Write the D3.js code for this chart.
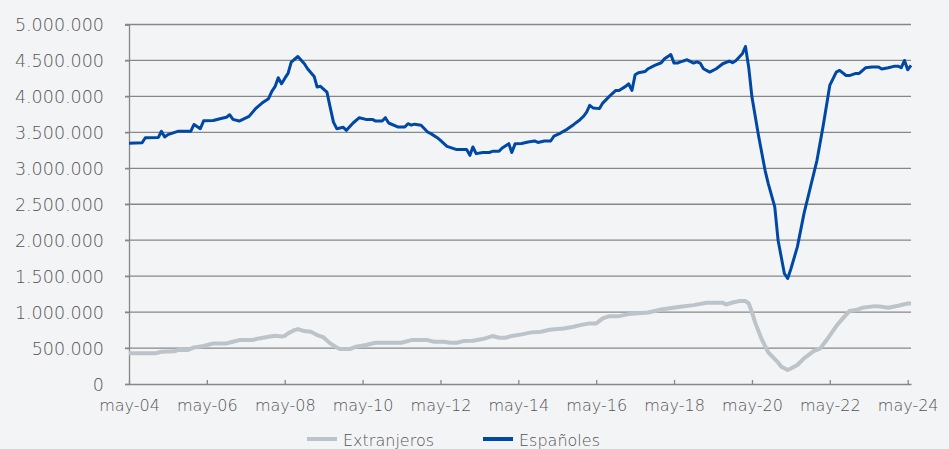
<!DOCTYPE html>
<html>
<head>
<meta charset="utf-8">
<script src="https://cdn.jsdelivr.net/npm/d3@7"></script>
<style>
html,body{margin:0;padding:0;background:#f3f4f6;}
svg{display:block;font-family:"DejaVu Sans",sans-serif;font-weight:300;}
</style>
</head>
<body>
<svg id="chart" width="949" height="449"></svg>
<script>
/* datos, en miles de personas */
var mesesEsp=["2004-05","2004-09","2004-10","2005-02","2005-03","2005-04","2005-05","2005-08","2005-12","2006-01","2006-03","2006-04","2006-07","2006-09","2006-11","2006-12","2007-01","2007-03","2007-06","2007-08","2007-10","2007-12","2008-01","2008-02","2008-03","2008-04","2008-05","2008-06","2008-07","2008-09","2008-11","2008-12","2009-02","2009-03","2009-04","2009-06","2009-07","2009-08","2009-09","2009-11","2009-12","2010-02","2010-04","2010-06","2010-08","2010-09","2010-11","2010-12","2011-01","2011-04","2011-06","2011-07","2011-08","2011-09","2011-11","2012-01","2012-02","2012-04","2012-05","2012-07","2012-10","2013-01","2013-02","2013-03","2013-04","2013-06","2013-08","2013-09","2013-11","2013-12","2014-02","2014-03","2014-04","2014-06","2014-08","2014-10","2014-11","2015-01","2015-03","2015-04","2015-06","2015-08","2015-10","2015-12","2016-01","2016-02","2016-03","2016-04","2016-06","2016-07","2016-09","2016-11","2016-12","2017-02","2017-03","2017-04","2017-05","2017-06","2017-08","2017-09","2017-11","2018-01","2018-02","2018-04","2018-05","2018-06","2018-07","2018-09","2018-11","2018-12","2019-01","2019-02","2019-04","2019-06","2019-08","2019-10","2019-11","2019-12","2020-02","2020-03","2020-04","2020-05","2020-07","2020-09","2020-10","2020-12","2021-01","2021-03","2021-04","2021-05","2021-07","2021-09","2021-11","2022-01","2022-03","2022-05","2022-07","2022-08","2022-10","2022-11","2023-01","2023-02","2023-04","2023-06","2023-08","2023-09","2023-11","2024-01","2024-02","2024-03","2024-04","2024-05","2024-06"];
var espanoles=[3350,3355,3425,3430,3515,3435,3468,3514,3514,3610,3550,3660,3665,3690,3710,3745,3680,3657,3722,3829,3907,3968,4069,4139,4260,4176,4250,4320,4476,4555,4454,4385,4278,4130,4140,4060,3850,3643,3551,3570,3528,3630,3704,3680,3680,3657,3657,3704,3630,3574,3574,3620,3600,3614,3600,3505,3482,3426,3389,3306,3260,3260,3180,3296,3204,3220,3220,3236,3236,3282,3343,3220,3340,3345,3366,3380,3360,3380,3380,3449,3490,3542,3607,3676,3720,3782,3875,3840,3830,3907,4000,4083,4083,4139,4176,4083,4300,4329,4345,4385,4431,4468,4523,4583,4463,4463,4480,4509,4463,4480,4463,4385,4338,4385,4454,4491,4468,4495,4593,4694,4400,3990,3458,2972,2787,2463,2000,1537,1468,1600,1907,2370,2740,3111,3600,4153,4338,4361,4290,4290,4320,4320,4398,4410,4410,4380,4398,4421,4421,4398,4500,4370,4431];

var mesesExt=["2004-05","2005-01","2005-03","2005-07","2005-08","2005-11","2006-01","2006-04","2006-07","2006-11","2007-01","2007-03","2007-07","2007-09","2007-12","2008-02","2008-04","2008-05","2008-06","2008-08","2008-09","2008-11","2009-01","2009-03","2009-05","2009-07","2009-09","2009-10","2010-01","2010-03","2010-06","2010-09","2011-05","2011-08","2012-01","2012-03","2012-06","2012-08","2012-10","2012-12","2013-03","2013-06","2013-09","2013-11","2014-01","2014-03","2014-06","2014-09","2014-12","2015-02","2015-05","2015-07","2015-10","2015-12","2016-03","2016-05","2016-07","2016-09","2016-12","2017-03","2017-09","2018-01","2018-07","2018-11","2019-03","2019-08","2019-09","2019-11","2020-01","2020-03","2020-04","2020-05","2020-06","2020-08","2020-10","2021-01","2021-02","2021-04","2021-05","2021-07","2021-09","2021-12","2022-02","2022-04","2022-07","2022-09","2022-11","2023-01","2023-03","2023-07","2023-09","2023-11","2024-02","2024-05","2024-06"];
var extranjeros=[426,426,449,455,472,472,509,528,565,565,588,611,611,634,657,671,660,670,704,750,764,736,727,681,648,565,509,486,486,519,542,574,574,611,611,588,588,574,574,597,602,625,667,644,644,667,690,718,727,750,764,773,796,819,843,843,912,944,944,972,995,1037,1074,1097,1129,1129,1106,1134,1153,1153,1120,1000,850,620,440,300,241,194,215,264,356,458,495,611,806,912,1014,1028,1060,1083,1074,1060,1088,1120,1120];

var yTicks=[0,500,1000,1500,2000,2500,3000,3500,4000,4500,5000];
var yLabels=["0","500.000","1.000.000","1.500.000","2.000.000","2.500.000","3.000.000","3.500.000","4.000.000","4.500.000","5.000.000"];
var xTicks=["2004-05","2006-05","2008-05","2010-05","2012-05","2014-05","2016-05","2018-05","2020-05","2022-05","2024-05"];
var xLabels=["may-04","may-06","may-08","may-10","may-12","may-14","may-16","may-18","may-20","may-22","may-24"];
var nombres=["Extranjeros","Españoles"];
var colores=["#bcc3c9","#0048a6"];

var parse=d3.timeParse("%Y-%m");
var svg=d3.select("#chart"),
    mIzq=129, mDer=911, mSup=24.5, mInf=384,
    txt="#555555", grid="#878787";

var x=d3.scaleTime()
    .domain([parse("2004-05"),parse("2024-06")])
    .range([mIzq,mDer]);
var y=d3.scaleLinear()
    .domain([0,5000])
    .range([mInf,mSup]);

/* rejilla */
svg.append("g").selectAll("line")
  .data(yTicks.slice(1))
  .enter().append("line")
    .attr("x1",mIzq-4).attr("x2",mDer)
    .attr("y1",function(d){return y(d);}).attr("y2",function(d){return y(d);})
    .attr("stroke",grid).attr("stroke-width",1.3);

/* eje y */
svg.append("g")
    .attr("transform","translate("+mIzq+",0)")
    .call(d3.axisLeft(y).tickValues(yTicks).tickSize(4).tickFormat(function(d,i){return yLabels[i];}))
    .call(function(g){
      g.select(".domain").attr("stroke",grid).attr("stroke-width",1.3);
      g.selectAll(".tick line").attr("stroke",grid).attr("stroke-width",1.3);
      g.selectAll("text").attr("fill",txt).attr("x",-25).attr("dy","0.36em")
        .style("font-size","17.5px").style("font-family","DejaVu Sans").style("font-weight","300");
    });

/* eje x */
svg.append("g")
    .attr("transform","translate(0,"+mInf+")")
    .call(d3.axisBottom(x).tickValues(xTicks.map(parse)).tickSizeInner(-4).tickSizeOuter(0).tickFormat(function(d,i){return xLabels[i];}))
    .call(function(g){
      g.select(".domain").attr("stroke",grid).attr("stroke-width",1.3);
      g.selectAll(".tick line").attr("stroke",grid).attr("stroke-width",1.3);
      g.selectAll("text").attr("fill",txt).attr("y",21).attr("dy","0.36em")
        .style("font-size","16px").style("font-family","DejaVu Sans").style("font-weight","300");
    });

/* lineas */
var linea=d3.line()
    .x(function(d){return x(parse(d[0]));})
    .y(function(d){return y(d[1]);});

var datos=[d3.zip(mesesExt,extranjeros),d3.zip(mesesEsp,espanoles)];
var anchos=[4,3];

svg.append("g").selectAll("path")
  .data(datos)
  .enter().append("path")
    .attr("d",linea)
    .attr("fill","none")
    .attr("stroke",function(d,i){return colores[i];})
    .attr("stroke-width",function(d,i){return anchos[i];})
    .attr("stroke-linejoin","round");

/* leyenda */
var ley=svg.append("g").selectAll("g")
  .data(nombres)
  .enter().append("g")
    .attr("transform",function(d,i){return "translate("+(307+i*176)+",439)";});
ley.append("line")
    .attr("x1",0).attr("x2",30)
    .attr("stroke",function(d,i){return colores[i];})
    .attr("stroke-width",4);
ley.append("text")
    .attr("x",36).attr("y",1).attr("dy","0.36em")
    .attr("fill",txt)
    .style("font-size","16px")
    .text(function(d){return d;});
</script>
</body>
</html>
